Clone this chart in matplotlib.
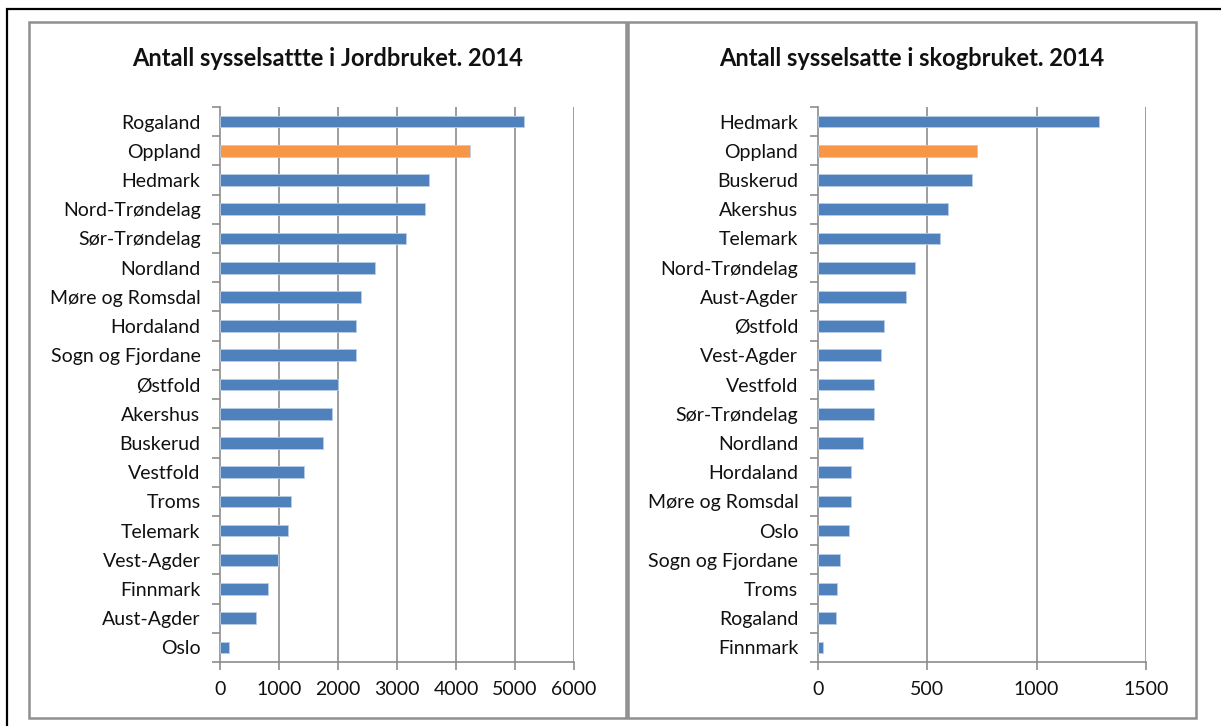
import numpy as np
import matplotlib
matplotlib.use('Agg')
import matplotlib.pyplot as plt
from matplotlib.patches import Rectangle

plt.rcParams['font.family'] = ['Lato', 'DejaVu Sans']

# jordbruk 2014
jord_fylker = ['Rogaland', 'Oppland', 'Hedmark', 'Nord-Trøndelag', 'Sør-Trøndelag',
               'Nordland', 'Møre og Romsdal', 'Hordaland', 'Sogn og Fjordane', 'Østfold',
               'Akershus', 'Buskerud', 'Vestfold', 'Troms', 'Telemark', 'Vest-Agder',
               'Finnmark', 'Aust-Agder', 'Oslo']
jord_antall = [5153, 4240, 3547, 3480, 3153, 2633, 2395, 2305, 2300, 2000,
               1898, 1746, 1418, 1198, 1158, 989, 808, 616, 158]

# skogbruk 2014
skog_fylker = ['Hedmark', 'Oppland', 'Buskerud', 'Akershus', 'Telemark', 'Nord-Trøndelag',
               'Aust-Agder', 'Østfold', 'Vest-Agder', 'Vestfold', 'Sør-Trøndelag',
               'Nordland', 'Hordaland', 'Møre og Romsdal', 'Oslo', 'Sogn og Fjordane',
               'Troms', 'Rogaland', 'Finnmark']
skog_antall = [1287, 727, 703, 596, 561, 443, 402, 301, 290, 255, 255,
               208, 154, 150, 144, 102, 90, 84, 26]

jord_ticks = [0, 1000, 2000, 3000, 4000, 5000, 6000]
skog_ticks = [0, 500, 1000, 1500]

BLUE = '#4F81BD'
ORANGE = '#F79646'
GRID = '#8C8C8C'

W, H = 1221, 726
fig = plt.figure(figsize=(W / 100, H / 100), dpi=100)


def px_axes(x0, x1, y0, y1):
    # pixel box (top-left origin) -> figure fraction
    return fig.add_axes([x0 / W, 1 - y1 / H, (x1 - x0) / W, (y1 - y0) / H])


def draw_panel(ax, fylker, antall, ticks):
    n = len(fylker)
    pos = np.arange(n)
    colors = [ORANGE if f == 'Oppland' else BLUE for f in fylker]
    ax.barh(pos, antall, height=0.4, color=colors, edgecolor='#B9CDE5',
            linewidth=0.6, zorder=3)
    ax.set_ylim(n - 0.5, -0.5)
    ax.set_xlim(ticks[0], ticks[-1])
    ax.set_yticks(pos)
    ax.set_yticklabels(fylker)
    ax.set_yticks(np.arange(n + 1) - 0.5, minor=True)
    ax.set_xticks(ticks)
    ax.set_xticklabels([str(t) for t in ticks])
    for t in ticks[1:]:
        ax.axvline(t, color=GRID, lw=1.2, zorder=1)
    for s in ['top', 'right']:
        ax.spines[s].set_visible(False)
    for s in ['left', 'bottom']:
        ax.spines[s].set_color(GRID)
        ax.spines[s].set_linewidth(1.2)
    ax.tick_params(axis='y', which='major', length=0, pad=14, labelsize=14, labelcolor='#111111')
    ax.tick_params(axis='y', which='minor', length=6, width=1.2, color=GRID)
    ax.tick_params(axis='x', which='major', length=6, width=1.2, color=GRID,
                   pad=8, labelsize=14, labelcolor='#111111')


ax1 = px_axes(220, 574, 107, 662)
draw_panel(ax1, jord_fylker, jord_antall, jord_ticks)

ax2 = px_axes(817.7, 1146, 107, 662)
draw_panel(ax2, skog_fylker, skog_antall, skog_ticks)

fig.text(328 / W, 1 - 58 / H, 'Antall sysselsattte i Jordbruket. 2014',
         ha='center', va='center', fontsize=17, fontweight='bold', color='#111111')
fig.text(912 / W, 1 - 58 / H, 'Antall sysselsatte i skogbruket. 2014',
         ha='center', va='center', fontsize=17, fontweight='bold', color='#111111')

# panel frames
def px_rect(x0, y0, x1, y1, **kw):
    r = Rectangle((x0 / W, 1 - y1 / H), (x1 - x0) / W, (y1 - y0) / H,
                  transform=fig.transFigure, fill=False, **kw)
    fig.add_artist(r)

px_rect(7, 9, 1240, 740, edgecolor='black', lw=1.6)
px_rect(29, 22, 626, 718, edgecolor='#8F8F8F', lw=1.8)
px_rect(628, 22, 1196, 718, edgecolor='#8F8F8F', lw=1.8)

fig.savefig('out.png', dpi=100)
